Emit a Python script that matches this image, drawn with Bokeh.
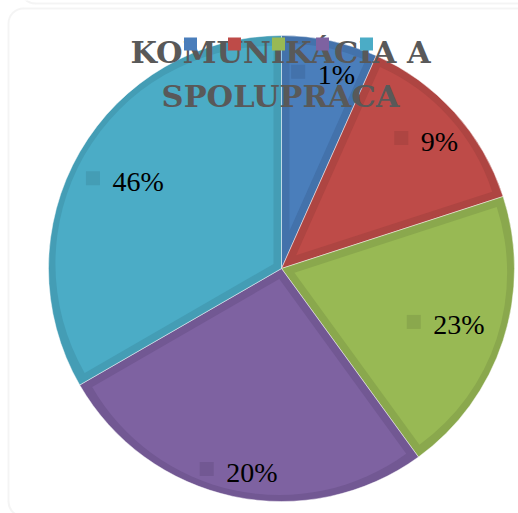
import numpy as np
from bokeh.plotting import figure
from bokeh.models import Range1d, BoxAnnotation
from bokeh.core.properties import value
from bokeh.embed import file_html
from bokeh.resources import INLINE

# ---- data ----
categories = ["1", "2", "3", "4", "5"]
values = [1, 2, 3, 4, 5]
labels = ["1%", "9%", "23%", "20%", "46%"]
title_lines = ["KOMUNIKÁCIA A", "SPOLUPRÁCA"]

# ---- style ----
fill_colors = ["#4a7ebb", "#be4b48", "#98b954", "#7e62a1", "#4bacc6"]
band_colors = ["#4372ab", "#ae4542", "#8aa84d", "#725893", "#449db5"]
label_radius = [0.863, 0.837, 0.742, 0.88, 0.775]

W, H = 518, 513


def Y(py):
    return H - py


p = figure(width=W, height=H, output_backend="svg", toolbar_location=None,
           x_range=Range1d(0, W), y_range=Range1d(0, H), min_border=0)
p.axis.visible = False
p.grid.visible = False
p.outline_line_color = None
p.background_fill_color = "white"

# frames (bottom of the box above, and the chart box)
for l, r, t, b in [(20, 540, Y(-40), Y(3)), (8, 560, Y(8), Y(516))]:
    try:
        box = BoxAnnotation(left=l, right=r, top=t, bottom=b, border_radius=15,
                            fill_alpha=0, line_color="#d9d9d9", line_width=2)
    except Exception:
        box = BoxAnnotation(left=l, right=r, top=t, bottom=b,
                            fill_alpha=0, line_color="#d9d9d9", line_width=2)
    p.add_layout(box)

cx, cy = 281.0, Y(268)
R = 233.0
v = np.array(values, dtype=float)
frac = v / v.sum()
c1 = np.cumsum(frac)
c0 = c1 - frac
start = np.pi / 2 - 2 * np.pi * c1
end = np.pi / 2 - 2 * np.pi * c0
mid = (start + end) / 2
half = np.pi * frac

# outer wedge (band colour)
p.wedge(x=cx, y=cy, radius=R, start_angle=list(start), end_angle=list(end),
        fill_color=band_colors, line_color="white", line_alpha=0.45, line_width=1)

# inner, inset wedge (fill colour)
t = 8.0
d = t / np.sin(half)
ix = cx + d * np.cos(mid)
iy = cy + d * np.sin(mid)
ir = R - t - d * (1 + np.cos(half)) / 2
p.wedge(x=list(ix), y=list(iy), radius=list(ir), start_angle=list(start), end_angle=list(end),
        fill_color=fill_colors, line_color=None)

# title
p.text(x=[280, 280], y=[Y(51), Y(95)], text=title_lines, text_align="center",
       text_baseline="middle", text_font=value("DejaVu Serif"),
       text_font_style="bold", text_font_size="30.5px", text_color="#595959")

# legend keys (no text)
lx = [190 + 44 * i for i in range(len(categories))]
p.scatter(x=lx, y=[Y(43.5)] * len(categories), marker="square", size=13,
          fill_color=fill_colors, line_color=None)

# data labels
fs = 28
px = cx + np.array(label_radius) * R * np.cos(mid)
py = cy + np.array(label_radius) * R * np.sin(mid)
tw = np.array([fs * (0.5 * (len(s) - 1) + 0.833) for s in labels])
group = 13 + 13 + tw
sqx = px - group / 2 + 6.5
txx = px - group / 2 + 26
p.scatter(x=list(sqx), y=list(py), marker="square", size=14,
          fill_color=band_colors, line_color=None)
p.text(x=list(txx), y=list(py - 3), text=labels, text_align="left",
       text_baseline="middle", text_font=value("Liberation Serif"),
       text_font_size=f"{fs}px", text_color="black")

open("out.html", "w").write(file_html(p, INLINE))
